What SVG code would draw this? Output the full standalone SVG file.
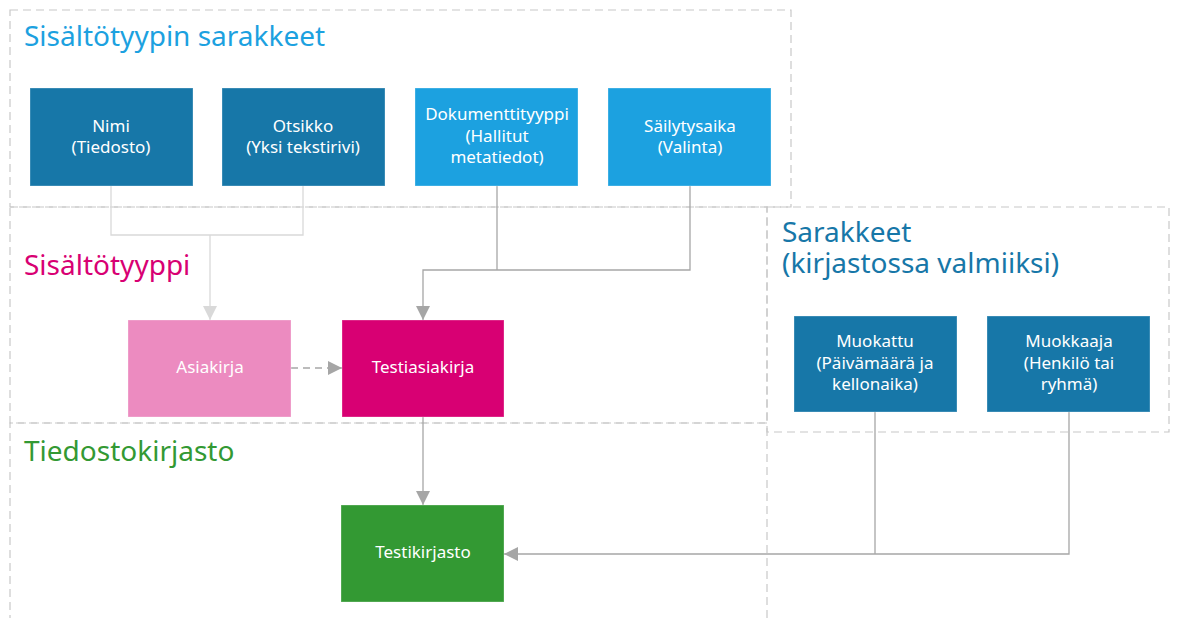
<svg xmlns="http://www.w3.org/2000/svg" width="1177" height="618" viewBox="0 0 1177 618">
<style>
.cont{fill:none;stroke:#c8c8c8;stroke-width:1.2;stroke-dasharray:8 5}
.title{font-family:"Noto Sans","Open Sans",sans-serif;font-size:28px}
.lbl{font-family:"Noto Sans","Open Sans",sans-serif;font-size:17px;fill:#fff;text-anchor:middle}
.n{stroke:#fff;stroke-opacity:0.3;stroke-width:1}
.c{fill:none;stroke:#a6a6a6;stroke-width:1.3}
.cl{fill:none;stroke:#d9d9d9;stroke-width:1.3}
</style>
<defs>
<marker id="ah" markerWidth="14" markerHeight="14" viewBox="0 0 14 14" refX="14" refY="7" orient="auto" markerUnits="userSpaceOnUse"><path d="M0,0 L14,7 L0,14 z" fill="#a6a6a6"/></marker>
<marker id="ahl" markerWidth="14" markerHeight="14" viewBox="0 0 14 14" refX="14" refY="7" orient="auto" markerUnits="userSpaceOnUse"><path d="M0,0 L14,7 L0,14 z" fill="#d9d9d9"/></marker>
</defs>
<rect width="1177" height="618" fill="#fff"/>
<g id="containers">
<rect class="cont" x="10" y="10" width="781" height="197"/>
<rect class="cont" x="10" y="207" width="757" height="216"/>
<rect class="cont" x="767" y="207" width="402" height="225"/>
<path class="cont" d="M10,623 V423 H767 V623"/>
<text class="title" x="24" y="46" fill="#1ca1e0">Sisältötyypin sarakkeet</text>
<text class="title" x="24" y="275" fill="#d80073">Sisältötyyppi</text>
<text class="title" x="24" y="461" fill="#339933">Tiedostokirjasto</text>
<text class="title" x="782" y="242" fill="#1777a8"><tspan x="782" y="242">Sarakkeet</tspan><tspan x="782" y="273">(kirjastossa valmiiksi)</tspan></text>
</g>
<g id="connectors">
<path class="cl" d="M111,186 V235 H303 V186"/>
<path class="cl" d="M210,235 V320" marker-end="url(#ahl)"/>
<path class="c" d="M497,186 V270"/>
<path class="c" d="M690,186 V270 H423 V320" marker-end="url(#ah)"/>
<path class="c" d="M291,368 H342" stroke-dasharray="7 5" marker-end="url(#ah)"/>
<path class="c" d="M423,417 V505" marker-end="url(#ah)"/>
<path class="c" d="M875,412 V554"/>
<path class="c" d="M1069,412 V554 H504" marker-end="url(#ah)"/>
</g>
<g id="nimi"><rect class="n" x="30" y="88" width="163" height="98" fill="#1777a8"/><text class="lbl" x="111" y="132">Nimi</text><text class="lbl" x="111" y="153">(Tiedosto)</text></g>
<g id="otsikko"><rect class="n" x="222" y="88" width="163" height="98" fill="#1777a8"/><text class="lbl" x="303" y="132">Otsikko</text><text class="lbl" x="303" y="153">(Yksi tekstirivi)</text></g>
<g id="dokumenttityyppi"><rect class="n" x="415" y="88" width="163" height="98" fill="#1ca1e0"/><text class="lbl" x="497" y="120">Dokumenttityyppi</text><text class="lbl" x="497" y="142">(Hallitut</text><text class="lbl" x="497" y="163">metatiedot)</text></g>
<g id="sailytysaika"><rect class="n" x="608" y="88" width="163" height="98" fill="#1ca1e0"/><text class="lbl" x="690" y="132">Säilytysaika</text><text class="lbl" x="690" y="153">(Valinta)</text></g>
<g id="asiakirja"><rect class="n" x="128" y="320" width="163" height="97" fill="#ec8bc0"/><text class="lbl" x="210" y="373">Asiakirja</text></g>
<g id="testiasiakirja"><rect class="n" x="342" y="320" width="162" height="97" fill="#d80073"/><text class="lbl" x="423" y="373">Testiasiakirja</text></g>
<g id="testikirjasto"><rect class="n" x="341" y="505" width="163" height="97" fill="#339933"/><text class="lbl" x="423" y="558">Testikirjasto</text></g>
<g id="muokattu"><rect class="n" x="794" y="316" width="163" height="96" fill="#1777a8"/><text class="lbl" x="875" y="347">Muokattu</text><text class="lbl" x="875" y="369">(Päivämäärä ja</text><text class="lbl" x="875" y="390">kellonaika)</text></g>
<g id="muokkaaja"><rect class="n" x="987" y="316" width="163" height="96" fill="#1777a8"/><text class="lbl" x="1069" y="347">Muokkaaja</text><text class="lbl" x="1069" y="369">(Henkilö tai</text><text class="lbl" x="1069" y="390">ryhmä)</text></g>
</svg>
